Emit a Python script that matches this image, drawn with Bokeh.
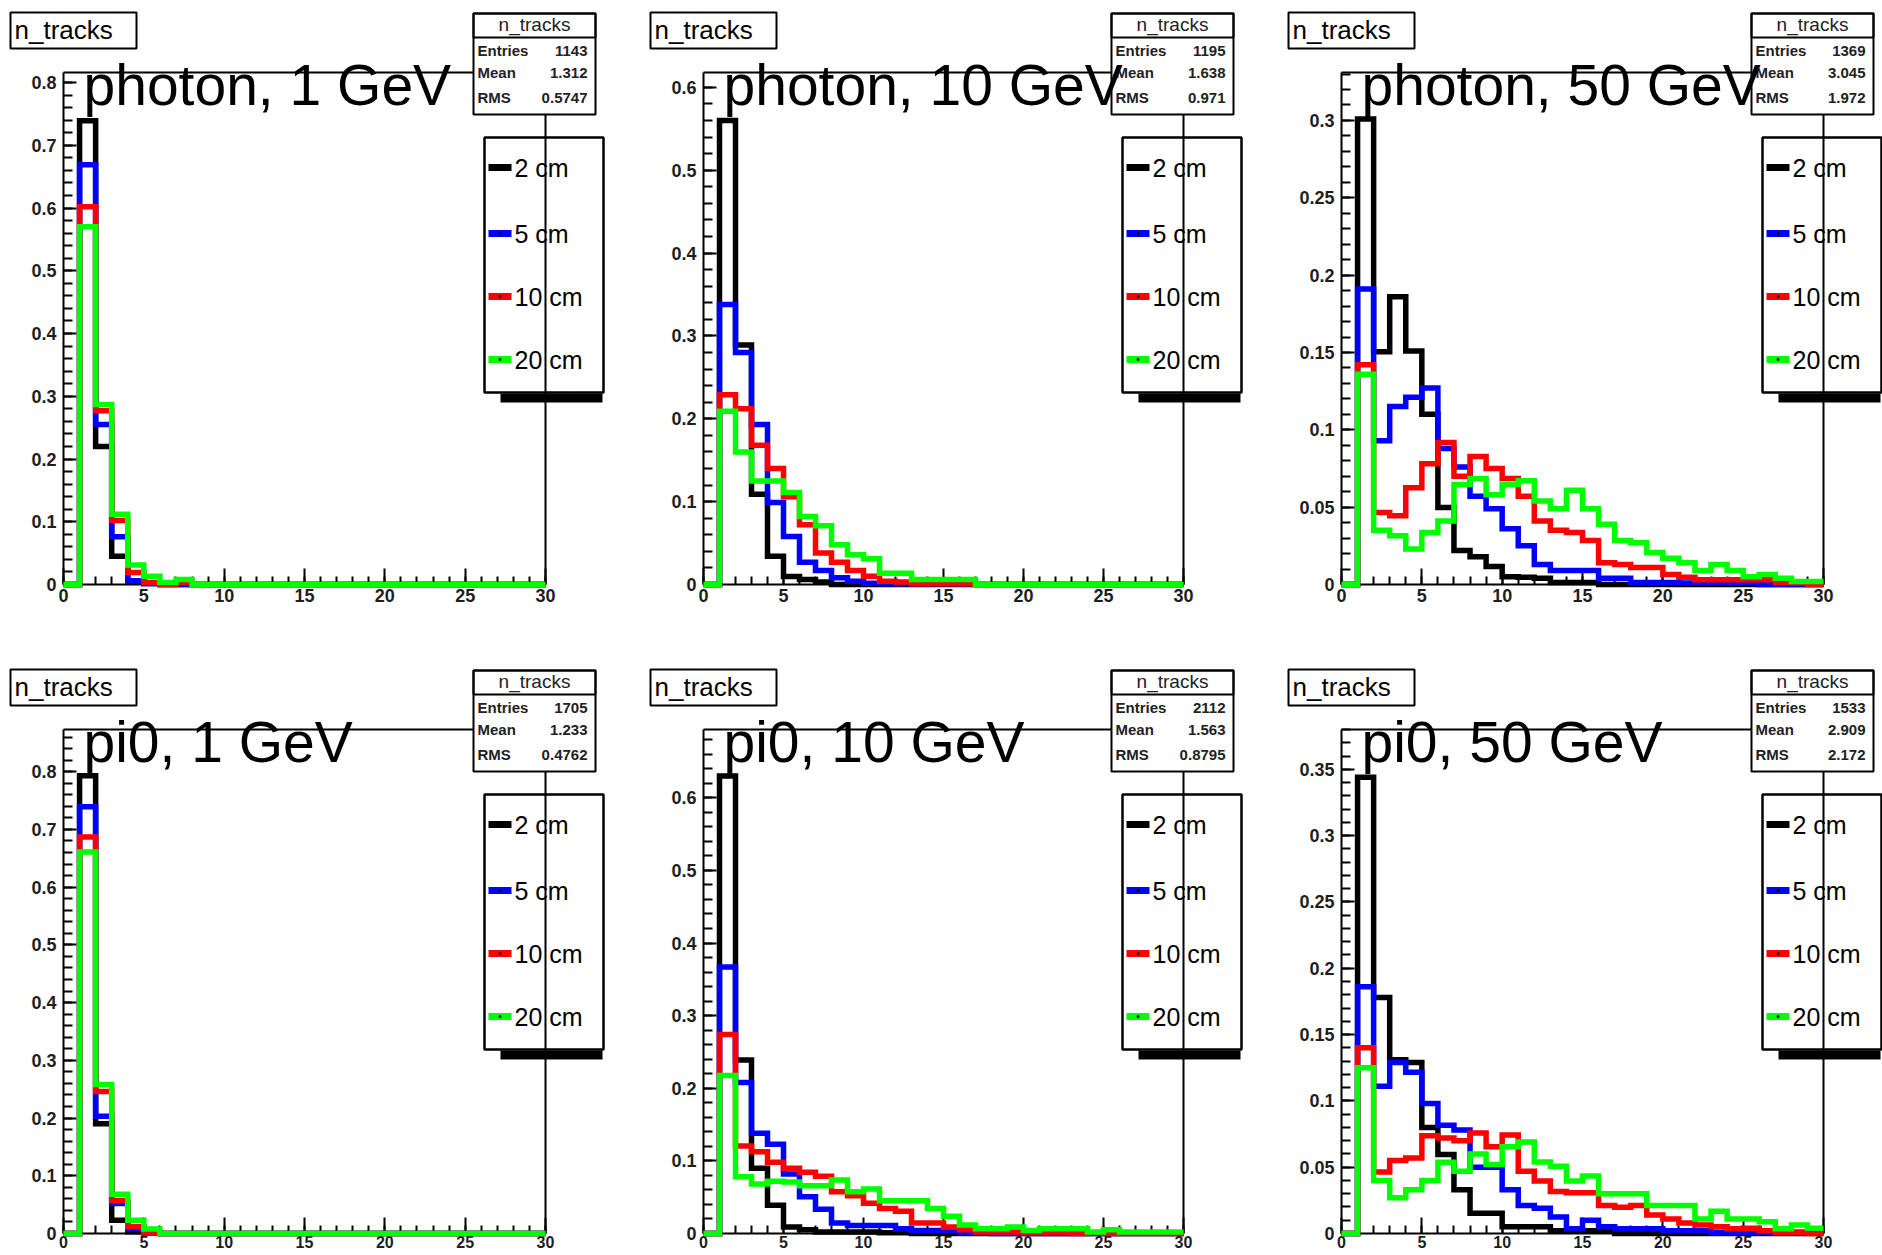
from bokeh.plotting import figure
from bokeh.layouts import column, row
from bokeh.models import Range1d, FixedTicker, CustomJSTickFormatter, BoxAnnotation, Label
from bokeh.embed import file_html
from bokeh.resources import INLINE

# ---------------- data ----------------
bin_edges = [0, 1, 2, 3, 4, 5, 6, 7, 8, 9, 10, 11, 12, 13, 14, 15, 16, 17, 18, 19,
             20, 21, 22, 23, 24, 25, 26, 27, 28, 29, 30]
series_names = ["2 cm", "5 cm", "10 cm", "20 cm"]
series_colors = ["#000000", "#0000ff", "#ff0000", "#00ff00"]

titles = ["photon, 1 GeV", "photon, 10 GeV", "photon, 50 GeV",
          "pi0, 1 GeV", "pi0, 10 GeV", "pi0, 50 GeV"]
stats_entries = ["1143", "1195", "1369", "1705", "2112", "1533"]
stats_mean = ["1.312", "1.638", "3.045", "1.233", "1.563", "2.909"]
stats_rms = ["0.5747", "0.971", "1.972", "0.4762", "0.8795", "2.172"]
y_max = [0.816, 0.618, 0.331, 0.873, 0.694, 0.380]
y_major_step = [0.1, 0.1, 0.05, 0.1, 0.1, 0.05]
y_minor_step = [0.02, 0.02, 0.01, 0.02, 0.02, 0.01]

photon_1GeV_2cm = [0, .739, .220, .045, .005, .002, 0, 0, 0, 0, 0, 0, 0, 0, 0,
                   0, 0, 0, 0, 0, 0, 0, 0, 0, 0, 0, 0, 0, 0, 0]
photon_1GeV_5cm = [0, .669, .255, .076, .006, .001, 0, 0, 0, 0, 0, 0, 0, 0, 0,
                   0, 0, 0, 0, 0, 0, 0, 0, 0, 0, 0, 0, 0, 0, 0]
photon_1GeV_10cm = [0, .602, .277, .102, .019, .003, 0, .003, 0, 0, 0, 0, 0, 0, 0,
                    0, 0, 0, 0, 0, 0, 0, 0, 0, 0, 0, 0, 0, 0, 0]
photon_1GeV_20cm = [0, .570, .287, .112, .031, .013, .003, .008, 0, 0, 0, 0, 0, 0, 0,
                    0, 0, 0, 0, 0, 0, 0, 0, 0, 0, 0, 0, 0, 0, 0]

photon_10GeV_2cm = [0, .560, .289, .109, .034, .0097, .006, .003, 0, 0, 0, 0, 0, 0, 0,
                    0, 0, 0, 0, 0, 0, 0, 0, 0, 0, 0, 0, 0, 0, 0]
photon_10GeV_5cm = [0, .338, .280, .193, .099, .058, .027, .017, .008, .004, .0015, .001, .001, .001, .001,
                    .001, .001, 0, 0, 0, 0, 0, 0, 0, 0, 0, 0, 0, 0, 0]
photon_10GeV_10cm = [0, .229, .212, .168, .140, .106, .072, .038, .027, .017, .010, .004, .003, .001, .001,
                     .001, .001, 0, 0, 0, 0, 0, 0, 0, 0, 0, 0, 0, 0, 0]
photon_10GeV_20cm = [0, .209, .160, .125, .125, .111, .082, .071, .048, .036, .031, .0135, .0135, .006, .006,
                     .006, .006, 0, 0, 0, 0, 0, 0, 0, 0, 0, 0, 0, 0, 0]

photon_50GeV_2cm = [0, .301, .1505, .186, .151, .110, .0497, .022, .018, .0116, .005, .0047, .004, .0013, .0013,
                    .0013, 0, 0, 0, 0, 0, 0, 0, 0, 0, 0, 0, 0, 0, 0]
photon_50GeV_5cm = [0, .191, .093, .115, .121, .127, .088, .076, .057, .049, .036, .025, .013, .009, .009,
                    .009, .004, .004, .0013, .0013, .0013, .001, .001, .001, .001, .001, 0, 0, 0, 0]
photon_50GeV_10cm = [0, .142, .0465, .0445, .0626, .078, .0918, .070, .0828, .075, .0685, .057, .041, .035, .0336,
                     .0284, .014, .013, .011, .011, .0065, .0047, .003, .003, .003, .003, .003, .0013, .001, 0]
photon_50GeV_20cm = [0, .136, .035, .0315, .023, .0336, .041, .0646, .0685, .058, .0646, .067, .054, .049, .061,
                     .049, .039, .0284, .027, .0207, .017, .014, .009, .013, .009, .005, .0065, .004, .002, .002]

pi0_1GeV_2cm = [0, .793, .190, .023, .003, .001, 0, 0, 0, 0, 0, 0, 0, 0, 0,
                0, 0, 0, 0, 0, 0, 0, 0, 0, 0, 0, 0, 0, 0, 0]
pi0_1GeV_5cm = [0, .739, .203, .052, .008, .001, 0, 0, 0, 0, 0, 0, 0, 0, 0,
                0, 0, 0, 0, 0, 0, 0, 0, 0, 0, 0, 0, 0, 0, 0]
pi0_1GeV_10cm = [0, .687, .246, .057, .0115, .001, 0, 0, 0, 0, 0, 0, 0, 0, 0,
                 0, 0, 0, 0, 0, 0, 0, 0, 0, 0, 0, 0, 0, 0, 0]
pi0_1GeV_20cm = [0, .661, .258, .068, .023, .008, 0, 0, 0, 0, 0, 0, 0, 0, 0,
                 0, 0, 0, 0, 0, 0, 0, 0, 0, 0, 0, 0, 0, 0, 0]

pi0_10GeV_2cm = [0, .630, .239, .090, .0388, .009, .005, .002, .002, .002, .002, .001, .001, 0, 0,
                 0, 0, 0, 0, 0, 0, 0, 0, 0, 0, 0, 0, 0, 0, 0]
pi0_10GeV_5cm = [0, .367, .208, .138, .123, .082, .0506, .0334, .0145, .011, .011, .011, .0065, .004, .004,
                 .004, .001, .001, 0, 0, 0, 0, 0, 0, 0, 0, 0, 0, 0, 0]
pi0_10GeV_10cm = [0, .274, .1206, .1125, .098, .090, .0845, .079, .0576, .052, .0415, .0345, .0307, .0145, .0145,
                  .009, .005, .002, .002, .002, .001, .001, .001, 0, .001, 0, 0, 0, 0, 0]
pi0_10GeV_20cm = [0, .2175, .078, .068, .072, .071, .0657, .0657, .0738, .0576, .0614, .045, .045, .045, .0345,
                  .0237, .0118, .0065, .0065, .009, .004, .0065, .0065, .0065, .002, .005, .002, .002, .002, .002]

pi0_50GeV_2cm = [0, .344, .178, .131, .129, .080, .0596, .033, .0153, .0153, .005, .005, .005, .002, .002,
                 .002, .002, 0, 0, 0, 0, 0, 0, 0, 0, 0, 0, 0, 0, 0]
pi0_50GeV_5cm = [0, .186, .111, .129, .1215, .098, .0817, .078, .050, .050, .033, .0212, .019, .0124, .0035,
                 .010, .005, .0035, .0035, .0035, .002, .002, .002, .001, .001, .001, .001, .001, .001, .001]
pi0_50GeV_10cm = [0, .140, .0463, .055, .057, .0737, .072, .070, .0758, .0655, .0743, .047, .0395, .0316, .0307,
                  .0307, .0212, .0198, .0212, .0139, .011, .008, .0065, .005, .0035, .004, .002, .0006, .001, 0]
pi0_50GeV_20cm = [0, .125, .040, .027, .033, .040, .0537, .047, .060, .052, .0655, .069, .054, .0507, .0395,
                  .0434, .030, .030, .030, .0212, .0212, .0212, .011, .0168, .011, .011, .0088, .0035, .0065, .004]

panel_series = [
    [photon_1GeV_2cm, photon_1GeV_5cm, photon_1GeV_10cm, photon_1GeV_20cm],
    [photon_10GeV_2cm, photon_10GeV_5cm, photon_10GeV_10cm, photon_10GeV_20cm],
    [photon_50GeV_2cm, photon_50GeV_5cm, photon_50GeV_10cm, photon_50GeV_20cm],
    [pi0_1GeV_2cm, pi0_1GeV_5cm, pi0_1GeV_10cm, pi0_1GeV_20cm],
    [pi0_10GeV_2cm, pi0_10GeV_5cm, pi0_10GeV_10cm, pi0_10GeV_20cm],
    [pi0_50GeV_2cm, pi0_50GeV_5cm, pi0_50GeV_10cm, pi0_50GeV_20cm],
]

# ---------------- layout / style ----------------
FIG_W = [638, 638, 606]
FIG_H = [657, 598]
FRAME_L = [63, 65, 65]     # ROOT frame left edge inside each figure (px)
FRAME_W = [482, 480, 482]
FRAME_T = [72, 72]
FRAME_H = [512, 504]
XLAB_SIZE = ["18px", "16px"]
XLAB_STANDOFF = [4, 2]
FONT = "Liberation Sans"
LEG_ROWS = [95, 161, 224, 287]
BASE_SHIFT = 0.33   # em correction for label baseline placement


def make_panel(idx):
    r, c = divmod(idx, 3)
    W, H = FIG_W[c], FIG_H[r]
    fl, fw = FRAME_L[c], FRAME_W[c]
    ft, fh = FRAME_T[r], FRAME_H[r]
    ymax = y_max[idx]
    x0, x1 = bin_edges[0], bin_edges[-1]
    kx = (x1 - x0) / fw
    ky = ymax / fh

    p = figure(width=W, height=H,
               x_range=Range1d(x0 - fl * kx, x1 + (W - fl - fw) * kx),
               y_range=Range1d(-(H - ft - fh) * ky, ymax + ft * ky),
               output_backend="svg", toolbar_location=None,
               min_border_left=0, min_border_right=0,
               min_border_top=0, min_border_bottom=0)
    p.background_fill_color = "white"
    p.border_fill_color = "white"
    p.outline_line_color = None
    p.xgrid.visible = False
    p.ygrid.visible = False

    def X(dx):
        return x0 + dx * kx

    def Y(dy):
        return ymax - dy * ky

    def text(dx, base_dy, s, size, align="left", bold=False, color="black"):
        p.add_layout(Label(x=X(dx), y=Y(base_dy - BASE_SHIFT * size), text=s,
                           text_font=FONT, text_font_size=f"{size}px",
                           text_font_style="bold" if bold else "normal",
                           text_color=color, text_align=align,
                           text_baseline="alphabetic"))

    # axes drawn at the ROOT frame edges
    xt_major = [v for v in bin_edges if v % 5 == 0]
    p.xaxis.ticker = FixedTicker(ticks=xt_major, minor_ticks=bin_edges)
    nmaj = int(ymax / y_major_step[idx] + 1e-9) + 1
    nmin = int(ymax / y_minor_step[idx] + 1e-9) + 1
    yt_major = [round(i * y_major_step[idx], 4) for i in range(nmaj)]
    yt_minor = [round(i * y_minor_step[idx], 4) for i in range(nmin)]
    p.yaxis.ticker = FixedTicker(ticks=yt_major, minor_ticks=yt_minor)
    p.yaxis.formatter = CustomJSTickFormatter(code="return String(parseFloat(tick.toFixed(3)));")
    p.xaxis.fixed_location = 0
    p.yaxis.fixed_location = x0
    p.xaxis.bounds = (x0, x1)
    p.yaxis.bounds = (0, ymax)

    for ax in p.axis:
        ax.level = "underlay"
        ax.axis_line_width = 2
        ax.axis_line_color = "black"
        ax.major_tick_line_width = 2
        ax.minor_tick_line_width = 2
        ax.major_tick_out = 0
        ax.minor_tick_out = 0
        ax.major_label_text_font = FONT
        ax.major_label_text_font_style = "bold"
        ax.major_label_text_color = "#1e1e1e"
    p.yaxis.major_label_text_font_size = "18px"
    p.xaxis.major_label_text_font_size = XLAB_SIZE[r]
    p.xaxis.major_tick_in = 16
    p.xaxis.minor_tick_in = 8
    p.yaxis.major_tick_in = 13
    p.yaxis.minor_tick_in = 9
    p.yaxis.major_label_standoff = 7
    p.xaxis.major_label_standoff = XLAB_STANDOFF[r]

    # frame top and right edges
    p.line(x=[x0, x1], y=[ymax, ymax], line_color="black", line_width=2)
    p.line(x=[x1, x1], y=[0, ymax], line_color="black", line_width=2)

    # histograms
    for vals, col in zip(panel_series[idx], series_colors):
        p.step(x=bin_edges, y=vals + [vals[-1]], mode="after",
               line_color=col, line_width=5.5, line_join="miter")

    # pad title box
    p.add_layout(BoxAnnotation(left=X(-53), right=X(73), top=Y(-60), bottom=Y(-24),
                               fill_color="white", fill_alpha=1.0,
                               line_color="black", line_width=2, line_alpha=1.0))
    text(-49, -34, "n_tracks", 26)

    # legend box + shadow
    p.add_layout(BoxAnnotation(left=X(fw - 45), right=X(fw + 57), top=Y(321), bottom=Y(330),
                               fill_color="black", fill_alpha=1.0, line_color=None))
    p.add_layout(BoxAnnotation(left=X(fw - 61), right=X(fw + 58), top=Y(65), bottom=Y(320),
                               fill_color=None, fill_alpha=0,
                               line_color="black", line_width=2.5, line_alpha=1.0))
    for k, (name, col) in enumerate(zip(series_names, series_colors)):
        yy = Y(LEG_ROWS[k])
        p.line(x=[X(fw - 57), X(fw - 34)], y=[yy, yy], line_color=col, line_width=7)
        if k > 0:
            p.scatter(x=[X(fw - 45.5)], y=[yy], marker="square", size=2.5,
                      fill_color="black", line_color=None)
        text(fw - 31, LEG_ROWS[k] + 9, name, 25)

    # stats box
    p.add_layout(BoxAnnotation(left=X(fw - 72), right=X(fw + 50), top=Y(-59), bottom=Y(42),
                               fill_color="white", fill_alpha=1.0,
                               line_color="black", line_width=2, line_alpha=1.0))
    p.add_layout(BoxAnnotation(left=X(fw - 72), right=X(fw + 50), top=Y(-59), bottom=Y(-35),
                               fill_color=None, fill_alpha=0,
                               line_color="black", line_width=2, line_alpha=1.0))
    text(fw - 11, -42, "n_tracks", 19, align="center", color="#222222")
    for lab, valtxt, dy in [("Entries", stats_entries[idx], -17),
                            ("Mean", stats_mean[idx], 5),
                            ("RMS", stats_rms[idx], 30)]:
        text(fw - 68, dy, lab, 15, bold=True, color="#222222")
        text(fw + 42, dy, valtxt, 15, align="right", bold=True, color="#222222")

    # big title
    text(20, 31, titles[idx], 57)
    return p


panels = [make_panel(i) for i in range(6)]
layout = column(row(panels[0], panels[1], panels[2]),
                row(panels[3], panels[4], panels[5]))

open("out.html", "w").write(file_html(layout, INLINE))
